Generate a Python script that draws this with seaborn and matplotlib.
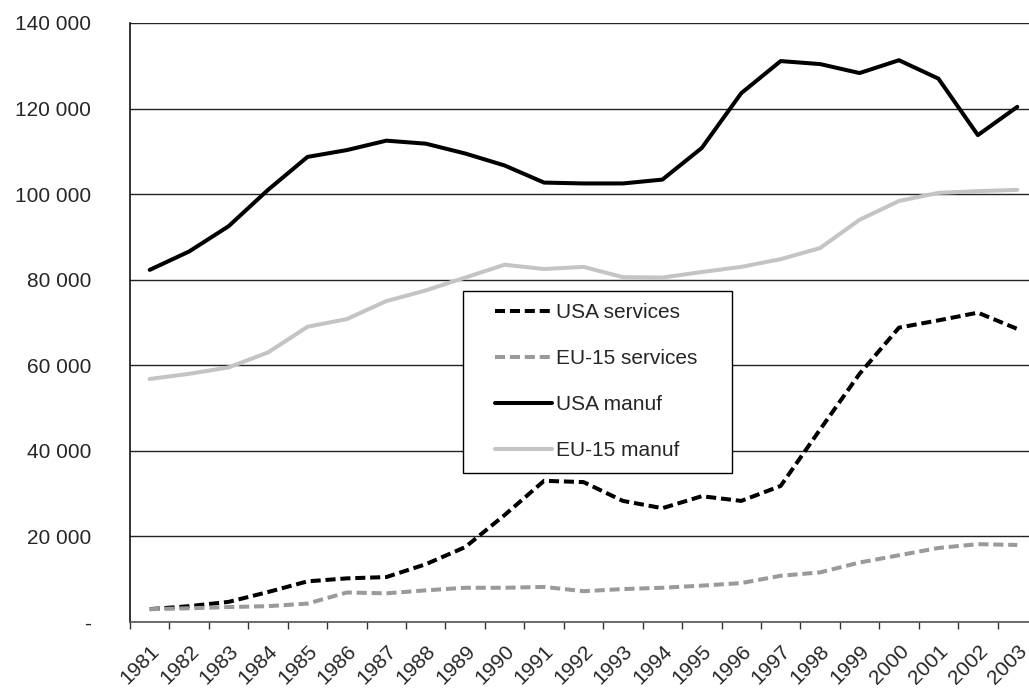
import pandas as pd
import matplotlib
matplotlib.use("Agg")
import matplotlib.pyplot as plt
import seaborn as sns
from matplotlib.ticker import FuncFormatter, MultipleLocator
from matplotlib.patches import Rectangle

years = list(range(1981, 2004))

usa_services = [3000, 3700, 4700, 7000, 9500, 10200, 10500, 13500, 17500, 25000, 33000, 32700,
                28300, 26600, 29400, 28300, 31800, 45000, 58000, 68800, 70500, 72300, 68500]
eu_services = [3000, 3200, 3500, 3700, 4300, 6900, 6700, 7400, 8000, 8000, 8200, 7200,
               7700, 8000, 8500, 9100, 10800, 11600, 13900, 15600, 17300, 18200, 18000]
usa_manuf = [82300, 86600, 92500, 101000, 108700, 110300, 112500, 111800, 109500, 106700, 102700, 102500,
             102500, 103400, 110800, 123600, 131100, 130400, 128300, 131300, 127000, 113800, 120400]
eu_manuf = [56800, 58000, 59500, 63000, 69000, 70800, 75000, 77500, 80500, 83500, 82500, 83000,
            80600, 80500, 81800, 83000, 84800, 87400, 94000, 98400, 100300, 100700, 101000]

series_names = ["USA services", "EU-15 services", "USA manuf", "EU-15 manuf"]

df = pd.DataFrame({"year": years, "USA services": usa_services, "EU-15 services": eu_services,
                   "USA manuf": usa_manuf, "EU-15 manuf": eu_manuf})
long_df = df.melt(id_vars="year", var_name="series", value_name="value")

sns.set_style("white")
plt.rcParams['font.family'] = ['Liberation Sans', 'DejaVu Sans']
FS = 15

fig = plt.figure(figsize=(10.29, 6.93), dpi=100)
ax = fig.add_axes([130/1029, 1 - 622/693, (1037 - 130)/1029, (622 - 23)/693])

palette = {"USA services": "#000000", "EU-15 services": "#9a9a9a",
           "USA manuf": "#000000", "EU-15 manuf": "#c4c4c4"}
dashes = {"USA services": (2.5, 1.2), "EU-15 services": (2.5, 1.2),
          "USA manuf": "", "EU-15 manuf": ""}

sns.lineplot(data=long_df, x="year", y="value", hue="series", style="series",
             hue_order=series_names, style_order=series_names,
             palette=palette, dashes=dashes, linewidth=2.9, ax=ax, zorder=3)

ax.set_xlim(1980.5, 2003.5)
ax.set_ylim(0, 140000)
ax.yaxis.set_major_locator(MultipleLocator(20000))
ax.yaxis.set_major_formatter(FuncFormatter(lambda v, p: "-" if v == 0 else f"{int(v):,}".replace(",", " ")))
ax.grid(axis="y", color="#222222", linewidth=1)
ax.set_axisbelow(True)

ax.set_xticks(years)
ax.set_xticklabels([str(y) for y in years], rotation=45, ha="right", rotation_mode="anchor")
ax.set_xticks([y + 0.5 for y in [1980] + years], minor=True)
ax.tick_params(axis="x", which="major", length=0, pad=14, labelsize=FS)
ax.tick_params(axis="x", which="minor", length=5, width=1, color="#333333", direction="out")
ax.tick_params(axis="y", length=5, width=1, color="#333333", direction="out", labelsize=FS, pad=23)
ax.tick_params(axis="x", bottom=True, which="both")

for s in ["top", "right"]:
    ax.spines[s].set_visible(False)
ax.spines["left"].set_color("#111111")
ax.spines["bottom"].set_color("#555555")
ax.spines["left"].set_linewidth(1.2)
ax.spines["bottom"].set_linewidth(1.2)
ax.set_xlabel("")
ax.set_ylabel("")

# legend frame drawn as a box, legend itself without frame
box = Rectangle((463/1029, 1 - 473/693), (732 - 463)/1029, (473 - 291)/693,
                transform=fig.transFigure, facecolor="white", edgecolor="black",
                linewidth=1, zorder=4)
ax.add_patch(box)
box.set_clip_on(False)

leg = ax.legend(loc="upper left", bbox_to_anchor=(495/1029, 1 - 303/693),
                bbox_transform=fig.transFigure, frameon=False,
                handlelength=2.75, handletextpad=0.2, labelspacing=1.3,
                borderpad=0, borderaxespad=0, fontsize=FS)
leg.set_zorder(5)
for line in leg.get_lines():
    line.set_linewidth(2.9)

fig.savefig("out.png", dpi=100)
